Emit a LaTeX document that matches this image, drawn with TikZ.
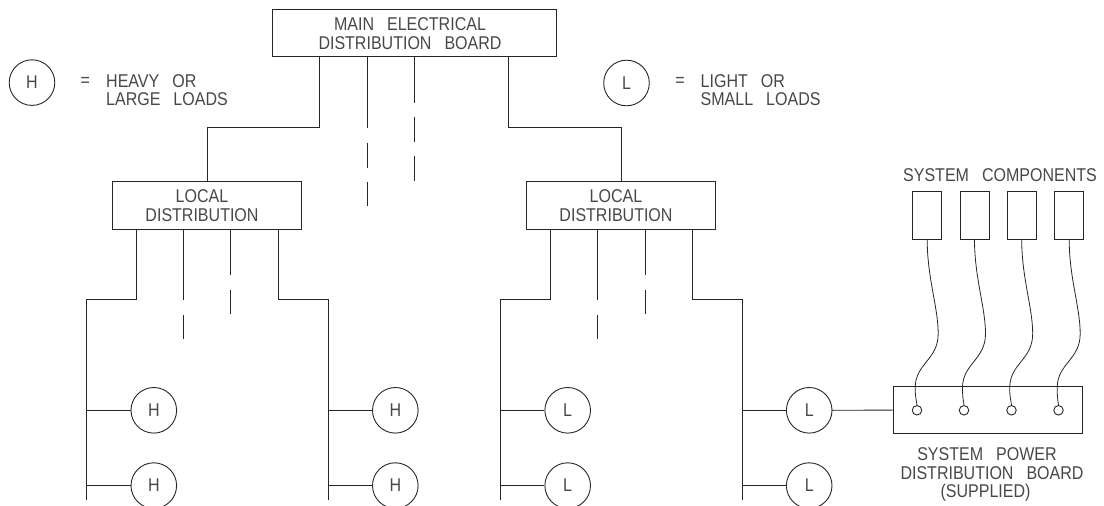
\documentclass[tikz,border=0pt]{standalone}
\usepackage{fontspec}
\usepackage{graphicx}
\setmainfont{Liberation Sans}
\usetikzlibrary{calc}
\newcommand{\wsp}{\hspace{15pt}}
\newcommand{\tx}[1]{\scalebox{0.866}[1]{#1}}
\tikzset{
  ln/.style={line width=0.9pt,draw=black!85},
  fnt/.style={font=\fontsize{18.5}{18.2}\selectfont,text=black!72},
  boxn/.style={ln,rectangle,inner sep=0pt},
  board/.style={boxn,minimum width=189pt,minimum height=47.6pt},
  comp/.style={boxn,minimum width=29pt,minimum height=47.5pt},
  load/.style={ln,circle,inner sep=0pt,minimum size=45.6pt,fnt},
  term/.style={ln,circle,inner sep=0pt,minimum size=9.5pt},
  lbl/.style={inner sep=0pt,align=center,fnt},
  lbll/.style={lbl,align=left,anchor=west},
  wire/.style={ln,line width=0.8pt}
}
\begin{document}
\begin{tikzpicture}[x=1pt,y=-1pt]
\useasboundingbox (0,0) rectangle (1104,506);
% boards
\node[boxn,minimum width=283.5pt,minimum height=47.4pt] (main) at (414.25,33) {};
\node[lbl,font=\fontsize{18.5}{19.6}\selectfont] (maint) at (410,33.5) {\tx{MAIN\wsp ELECTRICAL}\\\tx{DISTRIBUTION\wsp BOARD}};
\node[board] (ldl) at (207.3,205.5) {};
\node[lbl] (ldlt) at (202,205.7) {\tx{LOCAL}\\\tx{DISTRIBUTION}};
\node[board] (ldr) at (621.2,205.5) {};
\node[lbl] (ldrt) at (616,205.7) {\tx{LOCAL}\\\tx{DISTRIBUTION}};
\node[board] (sys) at (987.5,410.1) {};
% legend
\node[load] (legh) at (32,82.6) {\tx{H}};
\node[lbl] (eqh) at (85.3,81.7) {\tx{=}};
\node[lbll] (txh) at (106,90.4) {\tx{HEAVY\wsp OR}\\\tx{LARGE\wsp LOADS}};
\node[load] (legl) at (626.5,83) {\tx{L}};
\node[lbl] (eql) at (680,81.7) {\tx{=}};
\node[lbll] (txl) at (700.5,90.4) {\tx{LIGHT\wsp OR}\\\tx{SMALL\wsp LOADS}};
% main board branches
\coordinate (mla) at (319.5,127.3);
\coordinate (mra) at (508.5,127.3);
\draw[ln] (main.south -| mla) -- (mla) -| (ldl.north);
\draw[ln] (main.south -| mra) -- (mra) -| (ldr.north);
\coordinate (md1) at (367,206);
\coordinate (md2) at (414.3,181);
\draw[ln,dash pattern=on 70.5pt off 15pt on 25pt off 14pt] (main.south -| md1) -- (md1);
\draw[ln,dash pattern=on 45.5pt off 14pt on 25pt off 14pt] (main.south -| md2) -- (md2);
% left local
\coordinate (lb1) at (86,299.7);
\coordinate (lb1e) at (86,500);
\coordinate (lb2) at (328,299.7);
\coordinate (lb2e) at (328,500);
\draw[ln] (ldl.south -| 136,0) |- (lb1) -- (lb1e);
\draw[ln] (ldl.south -| 278,0) |- (lb2) -- (lb2e);
\coordinate (ld1) at (183,339);
\coordinate (ld2) at (230.7,314);
\draw[ln,dash pattern=on 70pt off 15pt on 25pt off 14pt] (ldl.south -| ld1) -- (ld1);
\draw[ln,dash pattern=on 45pt off 15pt on 25pt off 14pt] (ldl.south -| ld2) -- (ld2);
% right local
\coordinate (rb1) at (500,299.7);
\coordinate (rb1e) at (500,500);
\coordinate (rb2) at (742,299.7);
\coordinate (rb2e) at (742,500);
\draw[ln] (ldr.south -| 550.7,0) |- (rb1) -- (rb1e);
\draw[ln] (ldr.south -| 692.3,0) |- (rb2) -- (rb2e);
\coordinate (rd1) at (597.7,339);
\coordinate (rd2) at (645,314);
\draw[ln,dash pattern=on 70pt off 15pt on 25pt off 14pt] (ldr.south -| rd1) -- (rd1);
\draw[ln,dash pattern=on 45pt off 15pt on 25pt off 14pt] (ldr.south -| rd2) -- (rd2);
% loads
\node[load] (h1) at (153.8,410.3) {\tx{H}};
\node[load] (h2) at (153.8,485.6) {\tx{H}};
\node[load] (h3) at (395.3,410.3) {\tx{H}};
\node[load] (h4) at (395.3,485.6) {\tx{H}};
\node[load] (l1) at (567.7,410.3) {\tx{L}};
\node[load] (l2) at (567.7,485.6) {\tx{L}};
\node[load] (l3) at (809.2,410.3) {\tx{L}};
\node[load] (l4) at (809.2,485.6) {\tx{L}};
\draw[ln] (lb1 |- h1.west) -- (h1.west);
\draw[ln] (lb1 |- h2.west) -- (h2.west);
\draw[ln] (lb2 |- h3.west) -- (h3.west);
\draw[ln] (lb2 |- h4.west) -- (h4.west);
\draw[ln] (rb1 |- l1.west) -- (l1.west);
\draw[ln] (rb1 |- l2.west) -- (l2.west);
\draw[ln] (rb2 |- l3.west) -- (l3.west);
\draw[ln] (rb2 |- l4.west) -- (l4.west);
\draw[ln] (l3.east) -- (sys.west);
% components
\node[lbl] (sc) at (1000,175) {\tx{SYSTEM\wsp COMPONENTS}};
\node[comp] (c1) at (927.2,215.5) {};
\node[comp] (c2) at (974.5,215.5) {};
\node[comp] (c3) at (1021.7,215.5) {};
\node[comp] (c4) at (1069.2,215.5) {};
\node[term] (t1) at (917,410.3) {};
\node[term] (t2) at (964,410.3) {};
\node[term] (t3) at (1011.5,410.3) {};
\node[term] (t4) at (1058.5,410.3) {};
\foreach \i in {1,2,3,4}{
  \coordinate (a) at ($(c\i.south)+(11,94)$);
  \coordinate (b) at ($(c\i.south)+(-12,148)$);
  \draw[wire] (c\i.south) .. controls ($(c\i.south)+(0,38)$) and ($(c\i.south)+(11,68)$) .. (a)
     .. controls ($(a)+(0,26)$) and ($(b)+(0,-24)$) .. (b)
     .. controls ($(b)+(0,9)$) and ($(t\i.north)+(-1,-7)$) .. (t\i.north);
}
\node[lbl] (st) at (992,474.5) {\tx{SYSTEM\wsp POWER}\rule{10pt}{0pt}\\\tx{DISTRIBUTION\wsp BOARD}\\\tx{(SUPPLIED)}\rule{13pt}{0pt}};
\end{tikzpicture}
\end{document}
